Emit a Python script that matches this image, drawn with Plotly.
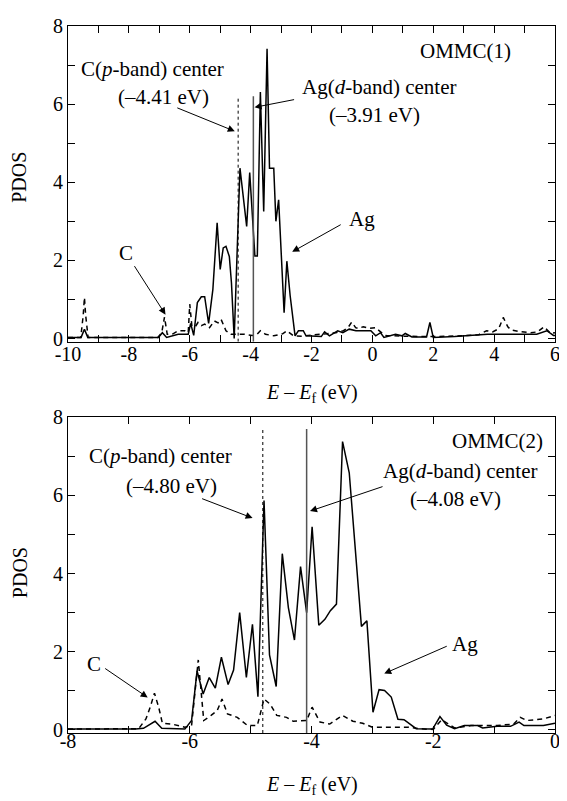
import plotly.graph_objects as go

# ---------------- data ----------------
top_ag_x = [-10, -9.57, -9.46, -9.35, -7.03, -6.9, -6.76, -6.54, -6.38, -6.05, -5.97, -5.87, -5.75, -5.62, -5.51,
            -5.38, -5.24, -5.1, -5.0, -4.9, -4.81, -4.7, -4.63, -4.54, -4.35, -4.13, -4.03, -3.86, -3.78, -3.68,
            -3.57, -3.46, -3.38, -3.24, -3.17, -3.08, -2.9, -2.81, -2.7, -2.54, -2.43, -2.27, -2.18, -1.68, -1.57,
            -1.41, -1.14, -0.97, -0.76, -0.54, -0.32, -0.05, 0.11, 0.27, 0.38, 0.76, 0.97, 1.08, 1.3, 1.78,
            1.89, 2.0, 2.7, 3.78, 4.86, 5.4, 5.73, 5.95, 6.0]
top_ag_y = [0.03, 0.03, 0.24, 0.03, 0.03, 0.15, 0.03, 0.07, 0.11, 0.11, 0.39, 0.08, 0.92, 1.07, 1.07,
            0.39, 1.26, 2.96, 1.77, 2.32, 2.36, 2.1, 1.43, 0.0, 4.36, 2.87, 4.25, 2.11, 2.11, 6.31,
            3.25, 7.42, 4.36, 4.36, 3.0, 3.55, 0.66, 1.98, 1.09, 0.07, 0.2, 0.2, 0.07, 0.05, 0.17,
            0.07, 0.2, 0.15, 0.24, 0.2, 0.2, 0.2, 0.07, 0.15, 0.03, 0.11, 0.07, 0.13, 0.04, 0.04,
            0.41, 0.03, 0.05, 0.11, 0.11, 0.11, 0.2, 0.08, 0.08]

top_c_x = [-10, -9.58, -9.5, -9.46, -9.42, -9.34, -7.05, -6.92, -6.83, -6.74, -6.55, -6.38, -6.16, -6.05, -6.0,
           -5.93, -5.82, -5.73, -5.62, -5.51, -5.35, -5.19, -5.07, -4.97, -4.81, -4.65, -4.49, -4.22, -3.95, -3.8,
           -3.68, -3.51, -3.24, -2.95, -2.81, -2.59, -2.3, -1.9, -1.5, -1.2, -0.95, -0.8, -0.68, -0.55, -0.47,
           -0.3, -0.1, 0.1, 0.27, 0.45, 1.0, 2.0, 3.0, 3.5, 3.75, 3.95, 4.15, 4.3, 4.45, 4.56,
           4.8, 4.99, 5.2, 5.42, 5.64, 5.86, 6.0]
top_c_y = [0.03, 0.03, 0.6, 1.05, 0.6, 0.03, 0.03, 0.15, 0.55, 0.11, 0.12, 0.2, 0.2, 0.15, 0.88,
           0.32, 0.3, 0.41, 0.33, 0.37, 0.28, 0.45, 0.4, 0.49, 0.2, 0.11, 0.11, 0.11, 0.08, 0.1,
           0.2, 0.11, 0.07, 0.12, 0.2, 0.07, 0.06, 0.1, 0.12, 0.15, 0.2, 0.28, 0.42, 0.28, 0.26,
           0.3, 0.26, 0.28, 0.17, 0.08, 0.06, 0.05, 0.07, 0.1, 0.2, 0.17, 0.25, 0.54, 0.3, 0.22,
           0.18, 0.17, 0.15, 0.17, 0.3, 0.13, 0.15]

bot_ag_x = [-8, -6.89, -6.76, -6.57, -6.46, -6.08, -5.97, -5.88, -5.78, -5.68, -5.58, -5.48, -5.37, -5.28, -5.18,
            -5.07, -4.97, -4.88, -4.78, -4.69, -4.58, -4.48, -4.38, -4.28, -4.18, -4.08, -3.99, -3.88, -3.78, -3.69,
            -3.59, -3.49, -3.38, -3.18, -3.09, -2.99, -2.89, -2.8, -2.69, -2.58, -2.48, -2.28, -2.01, -1.89, -1.78,
            -1.65, -1.49, -1.27, -1.19, -0.95, -0.73, -0.59, -0.51, -0.19, 0]
bot_ag_y = [0.02, 0.02, 0.04, 0.22, 0.04, 0.02, 0.24, 1.51, 0.92, 1.34, 1.07, 1.86, 1.16, 1.53, 3.0,
            1.34, 2.7, 0.85, 5.87, 1.92, 1.11, 4.51, 3.13, 2.3, 4.18, 3.0, 5.2, 2.68, 2.83, 3.05,
            3.22, 7.38, 6.58, 2.65, 2.79, 0.45, 1.03, 1.01, 0.84, 0.27, 0.26, 0.03, 0.02, 0.34, 0.12,
            0.03, 0.11, 0.11, 0.05, 0.09, 0.09, 0.2, 0.11, 0.11, 0.17]

bot_c_x = [-8, -6.84, -6.72, -6.65, -6.58, -6.51, -6.45, -6.3, -6.08, -5.97, -5.86, -5.77, -5.65, -5.55, -5.47,
           -5.38, -5.22, -5.05, -4.89, -4.78, -4.68, -4.57, -4.41, -4.3, -4.08, -3.99, -3.86, -3.7, -3.49, -3.32,
           -3.16, -3.0, -2.73, -2.41, -2.24, -2.0, -1.86, -1.65, -1.38, -0.95, -0.68, -0.57, -0.46, -0.19, 0]
bot_c_y = [0.02, 0.03, 0.28, 0.58, 0.94, 0.58, 0.17, 0.15, 0.07, 0.11, 1.79, 0.24, 0.37, 0.49, 0.79,
           0.41, 0.32, 0.11, 0.11, 0.79, 0.66, 0.37, 0.32, 0.22, 0.24, 0.58, 0.2, 0.15, 0.37, 0.22,
           0.17, 0.07, 0.07, 0.07, 0.03, 0.01, 0.26, 0.05, 0.11, 0.11, 0.15, 0.32, 0.24, 0.28, 0.37]

# band centres (eV) and the top of the marker lines
top_c_center, top_ag_center, top_line_top = -4.41, -3.91, 6.2
bot_c_center, bot_ag_center, bot_line_top = -4.80, -4.08, 7.7

top_xticks = list(range(-10, 7))
bot_xticks = list(range(-8, 1))
yticks = list(range(0, 9))

FONT = "Liberation Serif, Times New Roman, serif"

def lbl(v):
    return (("-" if v < 0 else "") + str(abs(v))) if v % 2 == 0 else ""

fig = go.Figure()
fig.add_trace(go.Scatter(x=top_ag_x, y=top_ag_y, mode="lines", line=dict(color="black", width=1.5),
                         xaxis="x", yaxis="y", showlegend=False))
fig.add_trace(go.Scatter(x=top_c_x, y=top_c_y, mode="lines", line=dict(color="black", width=1.5, dash="5px,4px"),
                         xaxis="x", yaxis="y", showlegend=False))
fig.add_trace(go.Scatter(x=bot_ag_x, y=bot_ag_y, mode="lines", line=dict(color="black", width=1.5),
                         xaxis="x2", yaxis="y2", showlegend=False))
fig.add_trace(go.Scatter(x=bot_c_x, y=bot_c_y, mode="lines", line=dict(color="black", width=1.5, dash="5px,4px"),
                         xaxis="x2", yaxis="y2", showlegend=False))

axcommon = dict(showgrid=False, zeroline=False, showline=True, linecolor="black", linewidth=1,
                mirror="ticks", ticks="inside", ticklen=7, tickwidth=1, tickcolor="black",
                ticklabeloverflow="allow",
                tickfont=dict(family=FONT, size=20, color="black"))

# the page body has an 8px margin, so the figure is 8px smaller than the window
fig.update_layout(
    width=559, height=793,
    margin=dict(l=60, r=7, t=15, b=68),
    paper_bgcolor="white", plot_bgcolor="white",
    font=dict(family=FONT, size=20, color="black"),
    xaxis=dict(domain=[0, 1], range=[-10, 6], anchor="y", tickmode="array", tickvals=top_xticks,
               ticktext=[lbl(v) for v in top_xticks], ticklabelstandoff=-6, **axcommon),
    yaxis=dict(domain=[0.5535, 1.0], range=[-0.08, 8], anchor="x", tickmode="array", tickvals=yticks,
               ticktext=[lbl(v) for v in yticks], **axcommon),
    xaxis2=dict(domain=[0, 1], range=[-8, 0], anchor="y2", tickmode="array", tickvals=bot_xticks,
                ticktext=[lbl(v) for v in bot_xticks], ticklabelstandoff=-10, **axcommon),
    yaxis2=dict(domain=[0, 0.4465], range=[-0.08, 8], anchor="x2", tickmode="array", tickvals=yticks,
                ticktext=[lbl(v) for v in yticks], **axcommon),
)

shapes = [
    dict(type="line", xref="x", yref="y", x0=top_c_center, x1=top_c_center, y0=-0.08, y1=top_line_top,
         line=dict(color="black", width=1, dash="dot")),
    dict(type="line", xref="x", yref="y", x0=top_ag_center, x1=top_ag_center, y0=-0.08, y1=top_line_top,
         line=dict(color="#555555", width=1.5)),
    dict(type="line", xref="x2", yref="y2", x0=bot_c_center, x1=bot_c_center, y0=-0.08, y1=bot_line_top,
         line=dict(color="black", width=1, dash="dot")),
    dict(type="line", xref="x2", yref="y2", x0=bot_ag_center, x1=bot_ag_center, y0=-0.08, y1=bot_line_top,
         line=dict(color="#555555", width=1.5)),
]
fig.update_layout(shapes=shapes)

ann = []

def text(x, y, t, xref, yref, size=21):
    ann.append(dict(x=x, y=y, xref=xref, yref=yref, text=t, showarrow=False, xanchor="center",
                    yanchor="middle", font=dict(family=FONT, size=size, color="black")))

def arrow(x, y, ax, ay, xref, yref):
    ann.append(dict(x=x, y=y, xref=xref, yref=yref, text="", showarrow=True, ax=ax, ay=ay,
                    arrowhead=2, arrowsize=1.4, arrowwidth=1, arrowcolor="black", standoff=0))

# pixel helpers for text placement (window pixels -> data coords)
def tx(px):
    return -10 + (px - 68.5) / 30.75
def ty(py):
    return (337 - py) / 39.2
def bx(px):
    return -8 + (px - 68.5) / 61.5
def by(py):
    return (729.5 - py) / 39.2

# top panel
text(tx(470), ty(48), "OMMC(1)", "x", "y")
text(tx(154), ty(67), "C(<i>p</i>-band) center", "x", "y")
text(tx(165), ty(95), "(–4.41 eV)", "x", "y")
arrow(tx(237), ty(129), -59, -24, "x", "y")
text(tx(383), ty(85), "Ag(<i>d</i>-band) center", "x", "y")
text(tx(378), ty(113), "(–3.91 eV)", "x", "y")
arrow(tx(257), ty(105), 41, -8, "x", "y")
text(tx(366), ty(217), "Ag", "x", "y")
arrow(tx(295), ty(250), 50, -28, "x", "y")
text(tx(127), ty(251), "C", "x", "y")
arrow(tx(167), ty(313), -32, -50, "x", "y")

# bottom panel
text(bx(502), by(440), "OMMC(2)", "x2", "y2")
text(bx(162), by(455), "C(<i>p</i>-band) center", "x2", "y2")
text(bx(173), by(485), "(–4.80 eV)", "x2", "y2")
arrow(bx(255), by(517), -52, -20, "x2", "y2")
text(bx(465), by(470), "Ag(<i>d</i>-band) center", "x2", "y2")
text(bx(460), by(498), "(–4.08 eV)", "x2", "y2")
arrow(bx(313), by(510), 74, -25, "x2", "y2")
text(bx(470), by(643), "Ag", "x2", "y2")
arrow(bx(388), by(673), 64, -28, "x2", "y2")
text(bx(95), by(663), "C", "x2", "y2")
arrow(bx(149), by(697), -44, -30, "x2", "y2")

# axis titles
xt = "<i>E</i> – <i>E</i><sub>f</sub> (eV)"
ann.append(dict(x=0.5, y=(733 - 392) / 710, xref="paper", yref="paper", text=xt, showarrow=False,
                xanchor="center", yanchor="middle", font=dict(family=FONT, size=20, color="black")))
ann.append(dict(x=0.5, y=(733 - 786) / 710, xref="paper", yref="paper", text=xt, showarrow=False,
                xanchor="center", yanchor="middle", font=dict(family=FONT, size=20, color="black")))
ann.append(dict(x=(19 - 68) / 492, y=(733 - 175) / 710, xref="paper", yref="paper", text="PDOS",
                showarrow=False, textangle=-90, xanchor="center", yanchor="middle",
                font=dict(family=FONT, size=20, color="black")))
ann.append(dict(x=(19 - 68) / 492, y=(733 - 572) / 710, xref="paper", yref="paper", text="PDOS",
                showarrow=False, textangle=-90, xanchor="center", yanchor="middle",
                font=dict(family=FONT, size=20, color="black")))
fig.update_layout(annotations=ann)

fig.write_html("out.html", config={"displayModeBar": False})
